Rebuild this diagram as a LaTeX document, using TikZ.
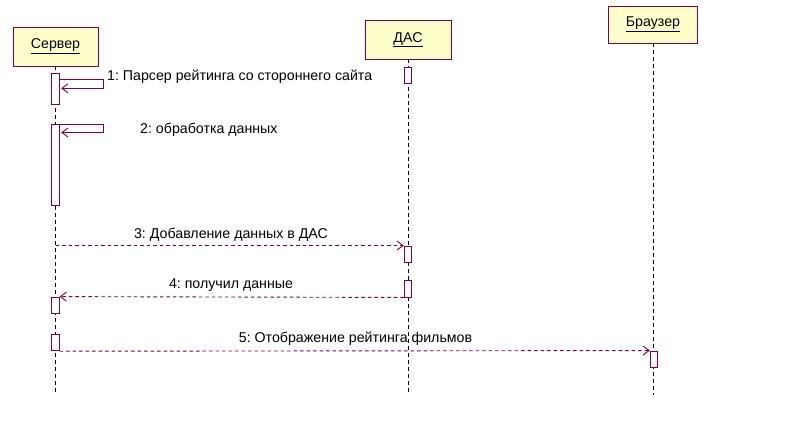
\documentclass[tikz,border=0pt]{standalone}
\usepackage{fontspec}
\setmainfont{Liberation Sans}
\frenchspacing
\usetikzlibrary{arrows.meta}
\definecolor{umlline}{HTML}{800040}
\definecolor{umlfill}{HTML}{FFFFCC}
\newcommand{\umlfont}{\fontsize{14.2pt}{16pt}\selectfont}
\tikzset{
  objbox/.style={draw=umlline, fill=umlfill, line width=0.9pt, inner sep=0pt, font=\umlfont},
  act/.style={draw=umlline, fill=white, line width=0.9pt, minimum width=7.5pt, inner sep=0pt},
  lifeline/.style={draw=black, line width=0.9pt, dash pattern=on 3.5pt off 3.5pt},
  msg/.style={draw=umlline, line width=0.9pt, dash pattern=on 3.5pt off 3pt, -{Straight Barb[length=6pt,width=9pt,line width=0.9pt]}},
  selfmsg/.style={draw=umlline, line width=0.9pt, -{Straight Barb[length=6pt,width=9pt,line width=0.9pt]}},
  lbl/.style={font=\umlfont, inner sep=0pt, text=black},
}
\begin{document}
\begin{tikzpicture}[x=1pt,y=-1pt]
\useasboundingbox (0,0) rectangle (808,421);
% objects
\node[objbox, minimum width=85pt, minimum height=39pt] (srv) at (55.5,46.5) {\underline{Сервер}};
\node[objbox, minimum width=86pt, minimum height=39pt] (das) at (408,39.5) {\underline{ДАС}};
\node[objbox, minimum width=89pt, minimum height=37pt] (brw) at (653,24.5) {\underline{Браузер}};
% lifeline ends
\coordinate (srvend) at (55.5,395);
\coordinate (dasend) at (408,395);
\coordinate (brwend) at (653,395);
\draw[lifeline] (srv.south) -- (srvend);
\draw[lifeline] (das.south) -- (dasend);
\draw[lifeline] (brw.south) -- (brwend);
% activations
\node[act, minimum height=31pt] (sa1) at (55.5,88.5) {};
\node[act, minimum height=81pt] (sa2) at (55.5,164.5) {};
\node[act, minimum height=16.5pt] (sa3) at (55.5,305.3) {};
\node[act, minimum height=16.5pt] (sa4) at (55.5,342.5) {};
\node[act, minimum height=16pt] (da1) at (408,75) {};
\node[act, minimum height=16pt] (da2) at (408,254) {};
\node[act, minimum height=17pt] (da3) at (408,288.5) {};
\node[act, minimum height=16pt] (ba1) at (654,359) {};
% self messages
\coordinate (s1a) at (103,79.3);
\coordinate (s1b) at (103,88.3);
\draw[selfmsg] (sa1.east |- s1a) -- (s1a) -- (s1b) -- ([xshift=1.5pt]sa1.east |- s1b);
\coordinate (s2a) at (103,124.5);
\coordinate (s2b) at (103,132.5);
\draw[selfmsg] (sa2.east |- s2a) -- (s2a) -- (s2b) -- ([xshift=1.5pt]sa2.east |- s2b);
% messages
\draw[msg] (srv.south |- da2.north) -- (da2.north west);
\draw[msg] (da3.south west) -- (sa3.north east);
\draw[msg] (sa4.south east) -- (ba1.north west);
% labels
\node[lbl, anchor=west] (l1) at (107,76.5) {1: Парсер рейтинга со стороннего сайта};
\node[lbl, anchor=west] (l2) at (140,130) {2: обработка данных};
\node[lbl] (l3) at (231,234.5) {3: Добавление данных в ДАС};
\node[lbl] (l4) at (231,285) {4: получил данные};
\node[lbl] (l5) at (355.5,339) {5: Отображение рейтинга фильмов};
\end{tikzpicture}
\end{document}
